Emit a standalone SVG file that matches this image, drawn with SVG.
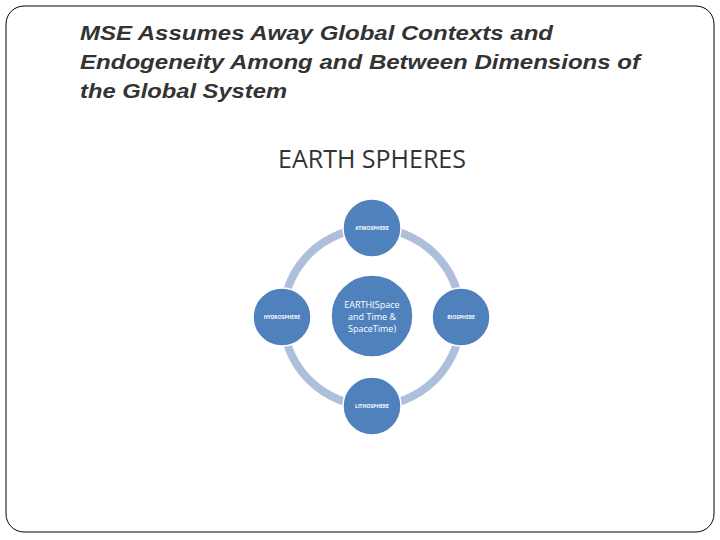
<svg xmlns="http://www.w3.org/2000/svg" width="720" height="540" viewBox="0 0 720 540">
<style>
.n{fill:#4f81bd;stroke:#ffffff;stroke-width:1.5}
.s{font-family:"Open Sans","Liberation Sans",sans-serif;font-size:5px;fill:#fff;text-anchor:middle;font-weight:bold}
.c{font-family:"Open Sans","Liberation Sans",sans-serif;font-size:9px;fill:#fff;text-anchor:middle}
.t{font-family:"Liberation Sans",Arial,sans-serif;font-size:21px;font-style:italic;font-weight:bold;fill:#333}
</style>
<rect x="6" y="6" width="708" height="526" rx="18" fill="#fff" stroke="#000" stroke-width="1"/>
<text class="t" x="80" y="40" textLength="473" lengthAdjust="spacingAndGlyphs">MSE Assumes Away Global Contexts and</text>
<text class="t" x="80" y="69" textLength="560" lengthAdjust="spacingAndGlyphs">Endogeneity Among and Between Dimensions of</text>
<text class="t" x="80" y="98" textLength="207" lengthAdjust="spacingAndGlyphs">the Global System</text>
<text x="372" y="168" font-family="Open Sans,Liberation Sans,sans-serif" font-size="25" fill="#333" text-anchor="middle">EARTH SPHERES</text>
<g id="connectors"><circle cx="372" cy="317" r="89" fill="none" stroke="#aebfdb" stroke-width="8"/></g>
<g id="center"><circle class="n" cx="372" cy="316" r="41"/>
<text class="c" x="372" y="308">EARTH(Space</text>
<text class="c" x="372" y="320">and Time &amp;</text>
<text class="c" x="372" y="332">SpaceTime)</text></g>
<g id="atmosphere"><circle class="n" cx="372" cy="228" r="29"/><text class="s" x="372" y="230">ATMOSPHERE</text></g>
<g id="biosphere"><circle class="n" cx="461" cy="317" r="29"/><text class="s" x="461" y="319">BIOSPHERE</text></g>
<g id="lithosphere"><circle class="n" cx="372" cy="406" r="29"/><text class="s" x="372" y="408">LITHOSPHERE</text></g>
<g id="hydrosphere"><circle class="n" cx="282" cy="317" r="29"/><text class="s" x="282" y="319">HYDROSPHERE</text></g>
</svg>
